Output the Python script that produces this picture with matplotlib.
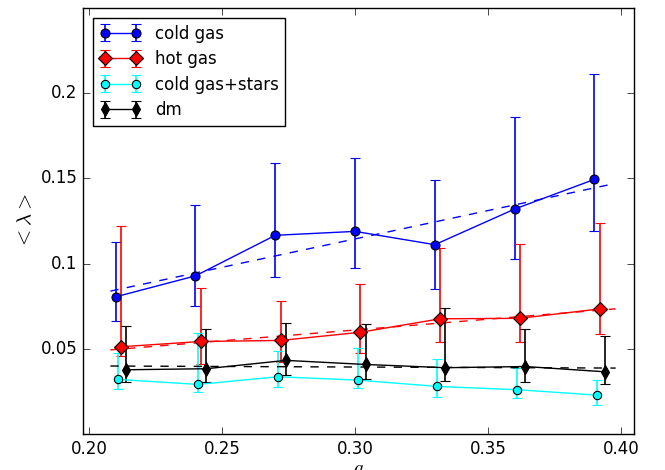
import numpy as np
import matplotlib
matplotlib.use("Agg")
import matplotlib.pyplot as plt
from matplotlib.ticker import FuncFormatter, MultipleLocator

plt.style.use("classic")
plt.rcParams["figure.facecolor"] = "white"
plt.rcParams["savefig.facecolor"] = "white"
plt.rcParams["font.size"] = 12

# scale factor bins
a = np.array([0.21, 0.24, 0.27, 0.30, 0.33, 0.36, 0.39])

# mean spin parameter and asymmetric errors per component
cold = np.array([0.0805, 0.0928, 0.1166, 0.1189, 0.1111, 0.1320, 0.1494])
cold_lo = np.array([0.0666, 0.0754, 0.0920, 0.0975, 0.0853, 0.1029, 0.1189])
cold_hi = np.array([0.1125, 0.1344, 0.1588, 0.1620, 0.1488, 0.1860, 0.2112])

hot = np.array([0.0512, 0.0543, 0.0549, 0.0597, 0.0676, 0.0679, 0.0734])
hot_lo = np.array([0.0460, 0.0412, 0.0420, 0.0477, 0.0539, 0.0539, 0.0584])
hot_hi = np.array([0.1223, 0.0857, 0.0779, 0.0881, 0.1092, 0.1117, 0.1236])

stars = np.array([0.0320, 0.0291, 0.0336, 0.0316, 0.0279, 0.0260, 0.0228])
stars_lo = np.array([0.0265, 0.0249, 0.0274, 0.0272, 0.0216, 0.0211, 0.0172])
stars_hi = np.array([0.0473, 0.0590, 0.0486, 0.0503, 0.0441, 0.0389, 0.0316])

dm = np.array([0.0377, 0.0383, 0.0432, 0.0408, 0.0389, 0.0396, 0.0365])
dm_lo = np.array([0.0305, 0.0305, 0.0345, 0.0324, 0.0310, 0.0305, 0.0295])
dm_hi = np.array([0.0632, 0.0615, 0.0650, 0.0647, 0.0740, 0.0619, 0.0578])

series = [
    ("cold gas", cold, cold_lo, cold_hi, 0.000, "blue", "o", 6.5, True),
    ("hot gas", hot, hot_lo, hot_hi, 0.002, "red", "D", 7, True),
    ("cold gas+stars", stars, stars_lo, stars_hi, 0.001, "cyan", "o", 6, False),
    ("dm", dm, dm_lo, dm_hi, 0.004, "black", "d", 7, True),
]

fig = plt.figure(figsize=(6.65, 4.7), dpi=100)
ax = fig.add_axes([0.1248, 0.0766, 0.8286, 0.9064])

afit = np.linspace(a.min() - 0.002, a.max() + 0.008, 50)
for label, y, lo, hi, dx, col, mk, ms, fit in series:
    ax.errorbar(a + dx, y, yerr=[y - lo, hi - y], color=col, ecolor=col,
                elinewidth=1.2, capsize=3.5, capthick=1.2, marker=mk,
                markersize=ms, markerfacecolor=col, markeredgecolor="black",
                markeredgewidth=0.8, linewidth=1.0, label=label)
    if fit:
        p = np.polyfit(a + dx, y, 1)
        ax.plot(afit, np.polyval(p, afit), "--", color=col, linewidth=1.0)

ax.set_xlim(0.1977, 0.4049)
ax.set_ylim(0.0, 0.25)
ax.xaxis.set_major_locator(MultipleLocator(0.05))
ax.yaxis.set_major_locator(MultipleLocator(0.05))
ax.xaxis.set_major_formatter(FuncFormatter(lambda v, pos: "%.2f" % v))
ax.yaxis.set_major_formatter(
    FuncFormatter(lambda v, pos: "" if v < 1e-9 or v > 0.249 else "%g" % v))
ax.tick_params(direction="in", length=5, labelsize=12)

ax.set_xlabel("$a$", fontsize=14, labelpad=1)
ax.set_ylabel(r"$<\lambda>$", fontsize=15, labelpad=4)

leg = ax.legend(loc="upper left", numpoints=2, fontsize=12, fancybox=False,
                frameon=True, borderaxespad=0.6, handlelength=2.5,
                labelspacing=0.45)
leg.get_frame().set_edgecolor("black")

fig.savefig("out.png", dpi=100)
